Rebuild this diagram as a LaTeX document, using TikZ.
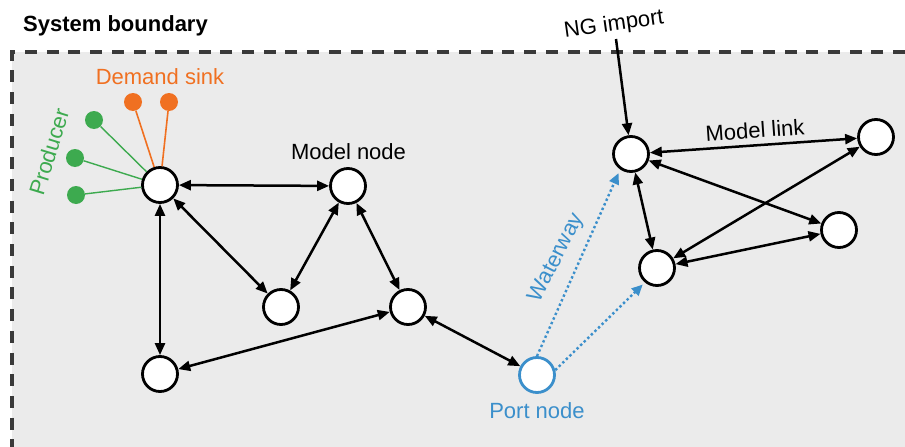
\documentclass[tikz,border=0pt]{standalone}
\usepackage{fontspec}
\setmainfont{Liberation Sans}
\usetikzlibrary{arrows.meta}
\definecolor{bggray}{HTML}{EBEBEB}
\definecolor{dashgray}{HTML}{3A3A3A}
\definecolor{portblue}{HTML}{3B8FCB}
\definecolor{sinkorange}{HTML}{F07021}
\definecolor{prodgreen}{HTML}{3DAA4F}
\tikzset{
  mnode/.style={circle, draw=black, fill=white, line width=2.8pt, minimum size=35pt, inner sep=0pt},
  pnode/.style={mnode, draw=portblue},
  gdot/.style={circle, fill=prodgreen, minimum size=18pt, inner sep=0pt},
  odot/.style={circle, fill=sinkorange, minimum size=18pt, inner sep=0pt},
  link/.style={line width=2.5pt, {Triangle[length=12pt,width=10pt]}-{Triangle[length=12pt,width=10pt]}},
  onelink/.style={line width=2.5pt, -{Triangle[length=12pt,width=10pt]}},
  water/.style={portblue, line width=2.4pt, dash pattern=on 2.4pt off 2.6pt, -{Triangle[length=11pt,width=10pt]}},
  lbl/.style={inner sep=0pt, font=\fontsize{22}{26}\selectfont},
}
\begin{document}
\begin{tikzpicture}[x=1pt, y=-1pt]
\useasboundingbox (0,0) rectangle (905,447);
\fill[bggray] (12,52) rectangle (905,447);
\draw[dashgray, line width=3.5pt, dash pattern=on 12pt off 9.7pt] (905,52) -- (12,52) -- (12,447);
\draw[dashgray, line width=3.5pt, dash pattern=on 12pt off 9.7pt] (12,448.3) -- (905,448.3);

\node[lbl, anchor=base west, font=\fontsize{22}{26}\selectfont\bfseries] (sb) at (23,31.7) {System boundary};

% model nodes
\node[mnode] (A) at (160,185) {};
\node[mnode] (B) at (348,186) {};
\node[mnode] (C) at (281,307) {};
\node[mnode] (D) at (408,307) {};
\node[mnode] (E) at (160,374) {};
\node[pnode] (P) at (537,375) {};
\node[mnode] (F) at (631,154) {};
\node[mnode] (G) at (657,268) {};
\node[mnode] (H) at (876,137) {};
\node[mnode] (I) at (839,230) {};

% producers and sinks
\node[gdot] (g1) at (94,120) {};
\node[gdot] (g2) at (75,158) {};
\node[gdot] (g3) at (76,195) {};
\node[odot] (o1) at (133,102) {};
\node[odot] (o2) at (169,102) {};
\draw[prodgreen, line width=1.4pt] (g1) -- (A);
\draw[prodgreen, line width=1.4pt] (g2) -- (A);
\draw[prodgreen, line width=1.4pt] (g3) -- (A);
\draw[sinkorange, line width=1.6pt] (o1) -- (A);
\draw[sinkorange, line width=1.6pt] (o2) -- (A);

% labels
\node[lbl, anchor=base, text=sinkorange] (ds) at (160,84) {Demand sink};
\node[lbl, text=prodgreen, rotate=73] (pr) at (49,152) {Producer};
\node[lbl, anchor=base] (mn) at (348.5,159.3) {Model node};
\node[lbl, anchor=base, text=portblue] (pn) at (537,418) {Port node};
\node[lbl, rotate=8] (ng) at (614,25) {NG import};
\node[lbl, rotate=4] (ml) at (755,130) {Model link};
\node[lbl, text=portblue, rotate=63] (ww) at (557,258) {Waterway};

% links
\draw[link] (A) -- (B);
\draw[link] (A) -- (C);
\draw[link] (A) -- (E);
\draw[link] (B) -- (C);
\draw[link] (B) -- (D);
\draw[link] (E) -- (D);
\draw[link] (D) -- (P);
\draw[link] (F) -- (H);
\draw[link] (F) -- (I);
\draw[link] (F) -- (G);
\draw[link] (G) -- (H);
\draw[link] (G) -- (I);
\coordinate (ngs) at (616,39);
\draw[onelink] (ngs) -- (F);

% waterways
\draw[water, shorten >=4pt] (P.north) -- (F.235);
\draw[water, shorten >=3pt] (P.15) -- (G.230);
\end{tikzpicture}
\end{document}
